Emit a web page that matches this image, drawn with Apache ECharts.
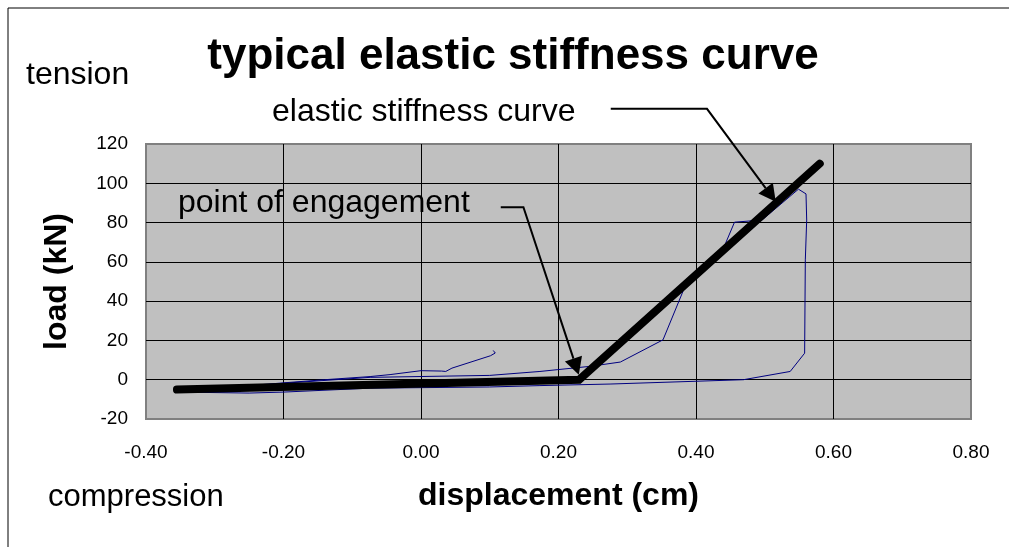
<!DOCTYPE html>
<html><head><meta charset="utf-8">
<script src="https://cdn.jsdelivr.net/npm/echarts@6/dist/echarts.min.js"></script>
<style>html,body{margin:0;padding:0;background:#fff}#c{width:1009px;height:547px}</style>
</head><body><div id="c"></div>
<script>
// measured test curve (displacement cm, load kN)
const testX = [0.105, 0.108, 0.101, 0.045, 0.036, 0.030, 0.029, 0.000, -0.045, -0.074, -0.140, -0.200, -0.270, -0.340,
  -0.270, -0.200, -0.074, 0.100, 0.173, 0.198, 0.246, 0.290, 0.352, 0.382, 0.442, 0.456, 0.496, 0.549, 0.560, 0.561, 0.559, 0.558, 0.537, 0.469,
  0.275, 0.173, 0.100, -0.074, -0.200, -0.250, -0.330];
const testY = [14.9, 13.6, 12.2, 5.9, 4.2, 4.4, 5.4, 4.6, 2.6, 1.6, 0.0, -1.6, -3.6, -5.6,
  -3.8, -1.8, 1.2, 2.2, 4.2, 5.1, 6.8, 9.0, 20.3, 45.8, 68.6, 80.2, 81.3, 97.0, 94.6, 81.3, 61.0, 13.5, 4.2, 0.0,
  -2.2, -3.0, -3.7, -4.3, -6.3, -6.8, -6.4];
// elastic stiffness (bilinear) curve
const stiffX = [-0.355, 0.23, 0.58];
const stiffY = [-5.0, 0.0, 110.0];
// annotation leader lines, in data units (last point = arrow tip)
const engageArrowX = [0.116, 0.149, 0.2295];
const engageArrowY = [87.8, 87.8, 2.5];
const elasticArrowX = [0.276, 0.416, 0.516];
const elasticArrowY = [137.9, 137.9, 90.6];
// axes
const xMin = -0.4, xMax = 0.8, xStep = 0.2;
const yMin = -20, yMax = 120, yStep = 20;

const FONT = '"Liberation Sans", Arial, sans-serif';
const chart = echarts.init(document.getElementById('c'), null, {renderer: 'canvas'});
const zip = (a, b) => a.map((v, i) => [v, b[i]]);

chart.setOption({
  animation: false,
  backgroundColor: '#fff',
  grid: {left: 146, right: 38, top: 144, bottom: 128, show: true,
    backgroundColor: '#c0c0c0', borderColor: '#808080', borderWidth: 2},
  xAxis: {type: 'value', min: xMin, max: xMax, interval: xStep,
    axisLine: {show: false}, axisTick: {show: false},
    splitLine: {show: true, showMinLine: false, showMaxLine: false, lineStyle: {color: '#000', width: 1}},
    axisLabel: {fontSize: 19, color: '#000', fontFamily: FONT, margin: 24,
      formatter: v => (Math.abs(v) < 1e-9 ? 0 : v).toFixed(2)},
    name: 'displacement (cm)', nameLocation: 'middle', nameGap: 61,
    nameTextStyle: {fontSize: 32, fontWeight: 'bold', color: '#000', fontFamily: FONT}},
  yAxis: {type: 'value', min: yMin, max: yMax, interval: yStep,
    axisLine: {show: false}, axisTick: {show: false},
    splitLine: {show: true, showMinLine: false, showMaxLine: false, lineStyle: {color: '#000', width: 1}},
    axisLabel: {fontSize: 19, color: '#000', fontFamily: FONT, margin: 18},
    name: 'load (kN)', nameLocation: 'middle', nameGap: 73, nameRotate: 90,
    nameTextStyle: {fontSize: 32, fontWeight: 'bold', color: '#000', fontFamily: FONT}},
  series: [
    {type: 'line', name: 'test', data: zip(testX, testY), showSymbol: false, symbol: 'none',
      lineStyle: {color: '#000080', width: 1}, z: 2},
    {type: 'line', name: 'elastic stiffness curve', data: zip(stiffX, stiffY), showSymbol: false, symbol: 'none',
      lineStyle: {color: '#000', width: 8, cap: 'round', join: 'miter'}, z: 3}
  ]
});

function arrow(xs, ys) {
  const pts = xs.map((x, i) => chart.convertToPixel({gridIndex: 0}, [x, ys[i]]));
  const n = pts.length, tip = pts[n - 1], prev = pts[n - 2];
  const dx = tip[0] - prev[0], dy = tip[1] - prev[1], L = Math.hypot(dx, dy);
  const ux = dx / L, uy = dy / L, hl = 17, hw = 9;
  const base = [tip[0] - ux * hl, tip[1] - uy * hl];
  const p1 = [base[0] - uy * hw, base[1] + ux * hw], p2 = [base[0] + uy * hw, base[1] - ux * hw];
  return [
    {type: 'polyline', z: 100, shape: {points: pts.slice(0, n - 1).concat([base])}, style: {stroke: '#000', lineWidth: 2, fill: null}},
    {type: 'polygon', z: 100, shape: {points: [tip, p1, p2]}, style: {fill: '#000'}}
  ];
}
function txt(x, y, s, font, align) {
  return {type: 'text', z: 100, x: x, y: y, style: {text: s, font: font, fill: '#000', align: align || 'left', verticalAlign: 'middle'}};
}
chart.setOption({graphic: [
  {type: 'rect', z: 100, shape: {x: 8, y: 8, width: 1100, height: 700}, style: {fill: null, stroke: '#000', lineWidth: 1}},
  txt(513, 57, 'typical elastic stiffness curve', 'bold 44px ' + FONT, 'center'),
  txt(26, 75, 'tension', '32px ' + FONT),
  txt(48, 497, 'compression', '31px ' + FONT),
  txt(272, 112, 'elastic stiffness curve', '32px ' + FONT),
  txt(178, 203, 'point of engagement', '32px ' + FONT),
  ...arrow(engageArrowX, engageArrowY),
  ...arrow(elasticArrowX, elasticArrowY)
]});
</script></body></html>
